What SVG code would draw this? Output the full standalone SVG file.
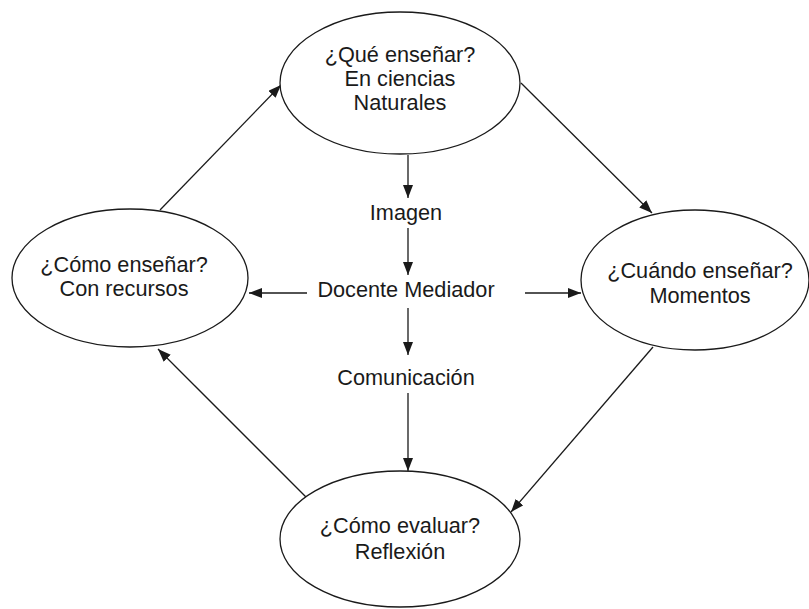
<svg xmlns="http://www.w3.org/2000/svg" width="809" height="609" viewBox="0 0 809 609">
<defs>
<marker id="ah" viewBox="0 0 13 10" refX="13" refY="5" markerWidth="13" markerHeight="10" markerUnits="userSpaceOnUse" orient="auto">
<path d="M0,0 L13,5 L0,10 Z" fill="#1a1a1a"/>
</marker>
</defs>
<style>
.n ellipse{fill:#fff;stroke:#1a1a1a;stroke-width:1.3}
text{font-family:"Liberation Sans",Arial,sans-serif;font-size:21.7px;fill:#1a1a1a;text-anchor:middle}
.c line{stroke:#1a1a1a;stroke-width:1.3;marker-end:url(#ah)}
</style>
<rect width="809" height="609" fill="#fff"/>
<g class="c" id="connectors">
<line x1="160" y1="210" x2="281" y2="85"/>
<line x1="521" y1="83" x2="652" y2="213"/>
<line x1="653" y1="347" x2="511" y2="512"/>
<line x1="306" y1="497" x2="158" y2="349"/>
<line x1="408" y1="155" x2="408" y2="198"/>
<line x1="408" y1="228" x2="408" y2="275"/>
<line x1="408" y1="308" x2="408" y2="355"/>
<line x1="408" y1="393" x2="408" y2="471"/>
<line x1="307" y1="293" x2="249" y2="293"/>
<line x1="525" y1="293" x2="581" y2="293"/>
</g>
<g class="n" id="que">
<ellipse cx="400" cy="83" rx="120" ry="71"/>
<text x="400" y="62">¿Qué enseñar?</text>
<text x="400" y="86">En ciencias</text>
<text x="400" y="110">Naturales</text>
</g>
<g class="n" id="como">
<ellipse cx="130" cy="278" rx="118" ry="69"/>
<text x="124" y="272">¿Cómo enseñar?</text>
<text x="124" y="296">Con recursos</text>
</g>
<g class="n" id="cuando">
<ellipse cx="695" cy="280" rx="114" ry="70"/>
<text x="700" y="278">¿Cuándo enseñar?</text>
<text x="700" y="303">Momentos</text>
</g>
<g class="n" id="evaluar">
<ellipse cx="400" cy="539" rx="120" ry="68"/>
<text x="400" y="533">¿Cómo evaluar?</text>
<text x="400" y="559">Reflexión</text>
</g>
<g id="imagen"><text x="406" y="220">Imagen</text></g>
<g id="docente"><text x="406" y="297">Docente Mediador</text></g>
<g id="comunicacion"><text x="406" y="385">Comunicación</text></g>
</svg>
